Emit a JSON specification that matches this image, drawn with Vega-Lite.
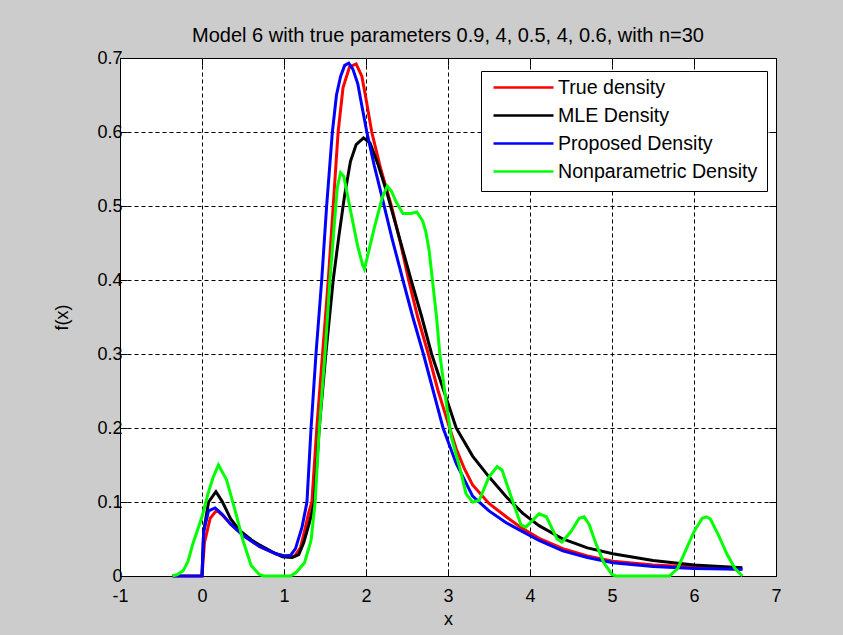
{
  "$schema": "https://vega.github.io/schema/vega-lite/v6.json",
  "width": 656,
  "height": 518,
  "autosize": {"type": "none"},
  "padding": {"left": 120, "top": 58, "right": 67, "bottom": 59},
  "background": "#cccccc",
  "title": {"text": "Model 6 with true parameters 0.9, 4, 0.5, 4, 0.6, with n=30", "font": "Liberation Sans", "fontSize": 20, "fontWeight": "normal", "color": "black", "anchor": "middle", "baseline": "alphabetic", "offset": 11, "dy": 24},
  "data": {"values": [
    {"s":"True density","x":-0.36,"y":0},{"s":"True density","x":0,"y":0},{"s":"True density","x":0.03,"y":0.045},{"s":"True density","x":0.1,"y":0.078},{"s":"True density","x":0.18,"y":0.089},{"s":"True density","x":0.25,"y":0.082},{"s":"True density","x":0.35,"y":0.07},{"s":"True density","x":0.5,"y":0.055},{"s":"True density","x":0.7,"y":0.04},{"s":"True density","x":0.9,"y":0.03},{"s":"True density","x":1.05,"y":0.026},{"s":"True density","x":1.13,"y":0.027},{"s":"True density","x":1.2,"y":0.038},{"s":"True density","x":1.26,"y":0.065},{"s":"True density","x":1.3,"y":0.085},{"s":"True density","x":1.34,"y":0.1},{"s":"True density","x":1.4,"y":0.2},{"s":"True density","x":1.47,"y":0.3},{"s":"True density","x":1.54,"y":0.4},{"s":"True density","x":1.6,"y":0.5},{"s":"True density","x":1.66,"y":0.6},{"s":"True density","x":1.72,"y":0.66},{"s":"True density","x":1.8,"y":0.688},{"s":"True density","x":1.88,"y":0.692},{"s":"True density","x":1.95,"y":0.675},{"s":"True density","x":2.0,"y":0.645},{"s":"True density","x":2.07,"y":0.6},{"s":"True density","x":2.18,"y":0.55},{"s":"True density","x":2.31,"y":0.5},{"s":"True density","x":2.42,"y":0.45},{"s":"True density","x":2.52,"y":0.4},{"s":"True density","x":2.63,"y":0.35},{"s":"True density","x":2.76,"y":0.3},{"s":"True density","x":2.88,"y":0.25},{"s":"True density","x":3.02,"y":0.2},{"s":"True density","x":3.1,"y":0.172},{"s":"True density","x":3.2,"y":0.145},{"s":"True density","x":3.3,"y":0.123},{"s":"True density","x":3.5,"y":0.098},{"s":"True density","x":3.71,"y":0.08},{"s":"True density","x":3.91,"y":0.064},{"s":"True density","x":4.11,"y":0.051},{"s":"True density","x":4.4,"y":0.037},{"s":"True density","x":4.7,"y":0.027},{"s":"True density","x":5.01,"y":0.02},{"s":"True density","x":5.5,"y":0.015},{"s":"True density","x":6.0,"y":0.012},{"s":"True density","x":6.59,"y":0.009},

    {"s":"MLE Density","x":0,"y":0},{"s":"MLE Density","x":0.02,"y":0.06},{"s":"MLE Density","x":0.08,"y":0.1},{"s":"MLE Density","x":0.17,"y":0.114},{"s":"MLE Density","x":0.25,"y":0.1},{"s":"MLE Density","x":0.35,"y":0.077},{"s":"MLE Density","x":0.455,"y":0.062},{"s":"MLE Density","x":0.6,"y":0.049},{"s":"MLE Density","x":0.7,"y":0.042},{"s":"MLE Density","x":0.85,"y":0.033},{"s":"MLE Density","x":0.98,"y":0.026},{"s":"MLE Density","x":1.1,"y":0.025},{"s":"MLE Density","x":1.18,"y":0.029},{"s":"MLE Density","x":1.24,"y":0.045},{"s":"MLE Density","x":1.31,"y":0.072},{"s":"MLE Density","x":1.37,"y":0.1},{"s":"MLE Density","x":1.43,"y":0.2},{"s":"MLE Density","x":1.51,"y":0.3},{"s":"MLE Density","x":1.6,"y":0.4},{"s":"MLE Density","x":1.67,"y":0.46},{"s":"MLE Density","x":1.74,"y":0.515},{"s":"MLE Density","x":1.81,"y":0.56},{"s":"MLE Density","x":1.88,"y":0.583},{"s":"MLE Density","x":1.97,"y":0.592},{"s":"MLE Density","x":2.05,"y":0.585},{"s":"MLE Density","x":2.15,"y":0.555},{"s":"MLE Density","x":2.25,"y":0.52},{"s":"MLE Density","x":2.4,"y":0.46},{"s":"MLE Density","x":2.55,"y":0.4},{"s":"MLE Density","x":2.68,"y":0.35},{"s":"MLE Density","x":2.8,"y":0.3},{"s":"MLE Density","x":2.95,"y":0.25},{"s":"MLE Density","x":3.1,"y":0.2},{"s":"MLE Density","x":3.3,"y":0.162},{"s":"MLE Density","x":3.5,"y":0.134},{"s":"MLE Density","x":3.71,"y":0.107},{"s":"MLE Density","x":3.91,"y":0.085},{"s":"MLE Density","x":4.11,"y":0.068},{"s":"MLE Density","x":4.4,"y":0.05},{"s":"MLE Density","x":4.7,"y":0.038},{"s":"MLE Density","x":5.01,"y":0.03},{"s":"MLE Density","x":5.5,"y":0.021},{"s":"MLE Density","x":6.0,"y":0.015},{"s":"MLE Density","x":6.59,"y":0.011},

    {"s":"Proposed Density","x":-0.36,"y":0},{"s":"Proposed Density","x":0,"y":0},{"s":"Proposed Density","x":0.02,"y":0.06},{"s":"Proposed Density","x":0.08,"y":0.088},{"s":"Proposed Density","x":0.16,"y":0.092},{"s":"Proposed Density","x":0.25,"y":0.083},{"s":"Proposed Density","x":0.35,"y":0.07},{"s":"Proposed Density","x":0.5,"y":0.055},{"s":"Proposed Density","x":0.7,"y":0.04},{"s":"Proposed Density","x":0.9,"y":0.03},{"s":"Proposed Density","x":1.0,"y":0.027},{"s":"Proposed Density","x":1.08,"y":0.028},{"s":"Proposed Density","x":1.14,"y":0.037},{"s":"Proposed Density","x":1.22,"y":0.066},{"s":"Proposed Density","x":1.28,"y":0.1},{"s":"Proposed Density","x":1.33,"y":0.2},{"s":"Proposed Density","x":1.39,"y":0.3},{"s":"Proposed Density","x":1.46,"y":0.4},{"s":"Proposed Density","x":1.52,"y":0.5},{"s":"Proposed Density","x":1.59,"y":0.6},{"s":"Proposed Density","x":1.64,"y":0.65},{"s":"Proposed Density","x":1.69,"y":0.675},{"s":"Proposed Density","x":1.74,"y":0.69},{"s":"Proposed Density","x":1.79,"y":0.693},{"s":"Proposed Density","x":1.84,"y":0.685},{"s":"Proposed Density","x":1.9,"y":0.665},{"s":"Proposed Density","x":1.95,"y":0.635},{"s":"Proposed Density","x":2.01,"y":0.6},{"s":"Proposed Density","x":2.1,"y":0.555},{"s":"Proposed Density","x":2.2,"y":0.51},{"s":"Proposed Density","x":2.32,"y":0.455},{"s":"Proposed Density","x":2.45,"y":0.4},{"s":"Proposed Density","x":2.57,"y":0.35},{"s":"Proposed Density","x":2.7,"y":0.3},{"s":"Proposed Density","x":2.82,"y":0.25},{"s":"Proposed Density","x":2.94,"y":0.2},{"s":"Proposed Density","x":3.1,"y":0.152},{"s":"Proposed Density","x":3.3,"y":0.108},{"s":"Proposed Density","x":3.5,"y":0.088},{"s":"Proposed Density","x":3.71,"y":0.072},{"s":"Proposed Density","x":3.91,"y":0.06},{"s":"Proposed Density","x":4.11,"y":0.048},{"s":"Proposed Density","x":4.4,"y":0.034},{"s":"Proposed Density","x":4.7,"y":0.025},{"s":"Proposed Density","x":5.01,"y":0.018},{"s":"Proposed Density","x":5.5,"y":0.013},{"s":"Proposed Density","x":6.0,"y":0.01},{"s":"Proposed Density","x":6.59,"y":0.009},

    {"s":"Nonparametric Density","x":-0.36,"y":0},{"s":"Nonparametric Density","x":-0.3,"y":0.002},{"s":"Nonparametric Density","x":-0.23,"y":0.007},{"s":"Nonparametric Density","x":-0.17,"y":0.02},{"s":"Nonparametric Density","x":-0.11,"y":0.044},{"s":"Nonparametric Density","x":0,"y":0.08},{"s":"Nonparametric Density","x":0.07,"y":0.11},{"s":"Nonparametric Density","x":0.135,"y":0.133},{"s":"Nonparametric Density","x":0.2,"y":0.15},{"s":"Nonparametric Density","x":0.3,"y":0.13},{"s":"Nonparametric Density","x":0.4,"y":0.09},{"s":"Nonparametric Density","x":0.5,"y":0.048},{"s":"Nonparametric Density","x":0.6,"y":0.014},{"s":"Nonparametric Density","x":0.7,"y":0.002},{"s":"Nonparametric Density","x":0.75,"y":0},{"s":"Nonparametric Density","x":1.08,"y":0},{"s":"Nonparametric Density","x":1.15,"y":0.005},{"s":"Nonparametric Density","x":1.25,"y":0.018},{"s":"Nonparametric Density","x":1.33,"y":0.048},{"s":"Nonparametric Density","x":1.38,"y":0.1},{"s":"Nonparametric Density","x":1.43,"y":0.2},{"s":"Nonparametric Density","x":1.5,"y":0.3},{"s":"Nonparametric Density","x":1.56,"y":0.4},{"s":"Nonparametric Density","x":1.61,"y":0.47},{"s":"Nonparametric Density","x":1.65,"y":0.525},{"s":"Nonparametric Density","x":1.69,"y":0.545},{"s":"Nonparametric Density","x":1.73,"y":0.54},{"s":"Nonparametric Density","x":1.8,"y":0.5},{"s":"Nonparametric Density","x":1.9,"y":0.445},{"s":"Nonparametric Density","x":1.96,"y":0.42},{"s":"Nonparametric Density","x":1.98,"y":0.415},{"s":"Nonparametric Density","x":2.01,"y":0.428},{"s":"Nonparametric Density","x":2.1,"y":0.47},{"s":"Nonparametric Density","x":2.2,"y":0.512},{"s":"Nonparametric Density","x":2.26,"y":0.527},{"s":"Nonparametric Density","x":2.31,"y":0.52},{"s":"Nonparametric Density","x":2.37,"y":0.505},{"s":"Nonparametric Density","x":2.45,"y":0.49},{"s":"Nonparametric Density","x":2.55,"y":0.49},{"s":"Nonparametric Density","x":2.62,"y":0.492},{"s":"Nonparametric Density","x":2.69,"y":0.48},{"s":"Nonparametric Density","x":2.73,"y":0.465},{"s":"Nonparametric Density","x":2.77,"y":0.44},{"s":"Nonparametric Density","x":2.81,"y":0.4},{"s":"Nonparametric Density","x":2.86,"y":0.35},{"s":"Nonparametric Density","x":2.9,"y":0.3},{"s":"Nonparametric Density","x":2.98,"y":0.233},{"s":"Nonparametric Density","x":3.04,"y":0.188},{"s":"Nonparametric Density","x":3.14,"y":0.148},{"s":"Nonparametric Density","x":3.22,"y":0.111},{"s":"Nonparametric Density","x":3.3,"y":0.1},{"s":"Nonparametric Density","x":3.38,"y":0.102},{"s":"Nonparametric Density","x":3.5,"y":0.134},{"s":"Nonparametric Density","x":3.6,"y":0.148},{"s":"Nonparametric Density","x":3.66,"y":0.143},{"s":"Nonparametric Density","x":3.77,"y":0.107},{"s":"Nonparametric Density","x":3.89,"y":0.069},{"s":"Nonparametric Density","x":3.95,"y":0.066},{"s":"Nonparametric Density","x":4.03,"y":0.075},{"s":"Nonparametric Density","x":4.11,"y":0.084},{"s":"Nonparametric Density","x":4.2,"y":0.08},{"s":"Nonparametric Density","x":4.27,"y":0.064},{"s":"Nonparametric Density","x":4.33,"y":0.05},{"s":"Nonparametric Density","x":4.39,"y":0.046},{"s":"Nonparametric Density","x":4.5,"y":0.06},{"s":"Nonparametric Density","x":4.6,"y":0.078},{"s":"Nonparametric Density","x":4.66,"y":0.08},{"s":"Nonparametric Density","x":4.72,"y":0.07},{"s":"Nonparametric Density","x":4.8,"y":0.045},{"s":"Nonparametric Density","x":4.9,"y":0.018},{"s":"Nonparametric Density","x":5.0,"y":0.002},{"s":"Nonparametric Density","x":5.05,"y":0},{"s":"Nonparametric Density","x":5.7,"y":0},{"s":"Nonparametric Density","x":5.8,"y":0.01},{"s":"Nonparametric Density","x":5.9,"y":0.035},{"s":"Nonparametric Density","x":6.0,"y":0.06},{"s":"Nonparametric Density","x":6.1,"y":0.078},{"s":"Nonparametric Density","x":6.15,"y":0.08},{"s":"Nonparametric Density","x":6.2,"y":0.077},{"s":"Nonparametric Density","x":6.3,"y":0.055},{"s":"Nonparametric Density","x":6.4,"y":0.03},{"s":"Nonparametric Density","x":6.5,"y":0.01},{"s":"Nonparametric Density","x":6.59,"y":0}
  ]},
  "resolve": {"axis": {"x": "independent", "y": "independent"}},
  "layer": [
    {
      "transform": [{"filter": "datum.s == 'True density'"}],
      "mark": {"type": "line", "strokeWidth": 3},
      "encoding": {
        "x": {"field": "x", "type": "quantitative", "scale": {"domain": [-1, 7], "nice": false, "zero": false},
              "axis": {"orient": "bottom", "title": "x", "values": [-1,0,1,2,3,4,5,6,7], "grid": true, "labelPadding": 18, "titlePadding": 5,
                       "labelExpr": "datum.value < 0 ? '-' + format(-datum.value, 'd') : format(datum.value, 'd')"}},
        "y": {"field": "y", "type": "quantitative", "scale": {"domain": [0, 0.7], "nice": false, "zero": false},
              "axis": {"orient": "left", "title": "f(x)", "values": [0,0.1,0.2,0.3,0.4,0.5,0.6,0.7], "grid": true, "labelPadding": 5, "titlePadding": 25,
                       "labelExpr": "datum.value == 0 ? '0' : format(datum.value, '.1f')"}},
        "color": {"field": "s", "type": "nominal",
                  "scale": {"domain": ["True density", "MLE Density", "Proposed Density", "Nonparametric Density"], "range": ["#ff0000", "#000000", "#0000ff", "#00ff00"]},
                  "legend": {"orient": "none", "legendX": 361, "legendY": 13, "title": null}}
      }
    },
    {
      "transform": [{"filter": "datum.s == 'MLE Density'"}],
      "mark": {"type": "line", "strokeWidth": 3},
      "encoding": {
        "x": {"field": "x", "type": "quantitative", "scale": {"domain": [-1, 7], "nice": false, "zero": false}, "axis": null},
        "y": {"field": "y", "type": "quantitative", "scale": {"domain": [0, 0.7], "nice": false, "zero": false}, "axis": null},
        "color": {"field": "s", "type": "nominal"}
      }
    },
    {
      "transform": [{"filter": "datum.s == 'Proposed Density'"}],
      "mark": {"type": "line", "strokeWidth": 3},
      "encoding": {
        "x": {"field": "x", "type": "quantitative", "scale": {"domain": [-1, 7], "nice": false, "zero": false}, "axis": null},
        "y": {"field": "y", "type": "quantitative", "scale": {"domain": [0, 0.7], "nice": false, "zero": false}, "axis": null},
        "color": {"field": "s", "type": "nominal"}
      }
    },
    {
      "transform": [{"filter": "datum.s == 'Nonparametric Density'"}],
      "mark": {"type": "line", "strokeWidth": 3},
      "encoding": {
        "x": {"field": "x", "type": "quantitative", "scale": {"domain": [-1, 7], "nice": false, "zero": false},
              "axis": {"orient": "top", "title": null, "labels": false, "grid": false, "values": [-1,0,1,2,3,4,5,6,7]}},
        "y": {"field": "y", "type": "quantitative", "scale": {"domain": [0, 0.7], "nice": false, "zero": false},
              "axis": {"orient": "right", "title": null, "labels": false, "grid": false, "values": [0,0.1,0.2,0.3,0.4,0.5,0.6,0.7]}},
        "color": {"field": "s", "type": "nominal"}
      }
    }
  ],
  "config": {
    "view": {"fill": "white", "stroke": "black", "strokeWidth": 1},
    "axis": {"domainColor": "black", "domainWidth": 1, "tickColor": "black", "tickSize": -7, "tickWidth": 1,
             "labelColor": "black", "titleColor": "black", "labelFont": "Liberation Sans", "titleFont": "Liberation Sans",
             "labelFontSize": 18, "titleFontSize": 18, "titleFontWeight": "normal",
             "gridColor": "black", "gridDash": [4, 3], "gridOpacity": 1, "gridWidth": 1, "labelFlush": false, "labelOverlap": false},
    "legend": {"symbolType": "stroke", "symbolSize": 3600, "symbolStrokeWidth": 2.5, "labelFont": "Liberation Sans", "labelFontSize": 19.6,
               "labelColor": "black", "strokeColor": "black", "fillColor": "white", "padding": 9, "clipHeight": 15, "rowPadding": 7,
               "symbolOffset": 2, "labelOffset": 3, "labelLimit": 400}
  }
}
